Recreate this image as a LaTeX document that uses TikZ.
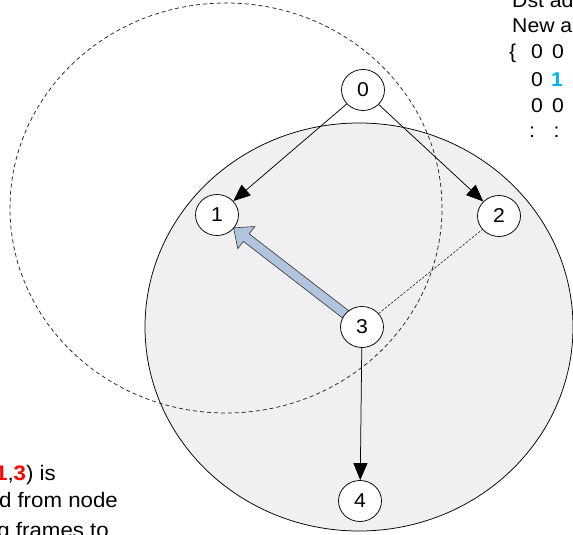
\documentclass[tikz,border=0pt]{standalone}
\usepackage{fontspec}
\setmainfont{Liberation Sans}
\usetikzlibrary{shapes.geometric,arrows.meta,calc}
\definecolor{zone}{RGB}{240,240,240}
\definecolor{fatblue}{RGB}{176,196,222}
\definecolor{hiblue}{RGB}{0,176,240}
\definecolor{hired}{RGB}{255,0,0}
\newcommand{\hstretch}[1]{\scalebox{1.06}[1]{#1}}
\pgfdeclarelayer{bglayer}
\pgfdeclarelayer{midlayer}
\pgfsetlayers{bglayer,midlayer,main}
\begin{document}
\begin{tikzpicture}[x=1pt,y=-1pt,
  vnode/.style={ellipse, draw, fill=white, line width=0.75pt, minimum width=43pt, minimum height=41pt, inner sep=0pt, font=\fontsize{20}{24}\selectfont},
  link/.style={line width=0.75pt, -{Triangle[length=17pt,width=14pt]}},
  weaklink/.style={line width=0.5pt, dash pattern=on 2.5pt off 1.5pt},
  rangering/.style={line width=0.75pt, dash pattern=on 4pt off 3pt, draw=black!85},
  zonestyle/.style={fill=zone, draw=black, line width=0.75pt},
  fatarrow/.style={fill=fatblue, draw=black!80, line width=0.6pt, line join=miter},
  txt/.style={inner sep=0pt, font=\fontsize{20}{24}\selectfont, anchor=base west},
  notetxt/.style={inner sep=0pt, font=\fontsize{21}{25}\selectfont, anchor=base east},
]
\useasboundingbox (0,0) rectangle (573,535);

% nodes
\node[vnode] (n0) at (363,90) {\hstretch{0}};
\node[vnode] (n1) at (217,215) {\hstretch{1}};
\node[vnode] (n2) at (499,216) {\hstretch{2}};
\node[vnode] (n3) at (362,327) {\hstretch{3}};
\node[vnode] (n4) at (360,501) {\hstretch{4}};

% background areas
\begin{pgfonlayer}{bglayer}
  \path[zonestyle] (359,327) ellipse [x radius=214pt, y radius=204pt];
  \path[rangering] (226,208) ellipse [x radius=216pt, y radius=205pt];
\end{pgfonlayer}

% fat arrow 3 -> 1
\begin{pgfonlayer}{midlayer}
  \coordinate (T) at ($(n1.center)!21pt!(n3.center)$);
  \coordinate (S) at ($(n3.center)!8pt!(n1.center)$);
  \coordinate (B) at ($(T)!16pt!(S)$);
  \path[fatarrow] (T) -- ($(B)!14pt!90:(T)$) -- ($(B)!4.75pt!90:(T)$)
     -- ($(S)!4.75pt!90:(T)$) -- ($(S)!4.75pt!-90:(T)$)
     -- ($(B)!4.75pt!-90:(T)$) -- ($(B)!14pt!-90:(T)$) -- cycle;
\end{pgfonlayer}

% links
\draw[link] (n0) -- (n1);
\draw[link] (n0) -- (n2);
\draw[link] (n3) -- (n4);
\draw[weaklink] (n3) -- (n2);

% top right text
\node[txt] (r0) at (512,7.5) {\hstretch{Dst ad}};
\node[txt] (r1) at (512,33) {\hstretch{New a}};
\node[txt] (b1) at (509,59) {\hstretch{\{}};
\node[txt] (c11) at (531,59) {\hstretch{0}};
\node[txt] (c12) at (552,59) {\hstretch{0}};
\node[txt] (c21) at (531,86) {\hstretch{0}};
\node[txt] (c22) at (551,86) {\hstretch{\textbf{\color{hiblue}1}}};
\node[txt] (c31) at (531,112) {\hstretch{0}};
\node[txt] (c32) at (552,112) {\hstretch{0}};
\node[txt] (c41) at (529,137) {\hstretch{:}};
\node[txt] (c42) at (553.5,137) {\hstretch{:}};

% bottom left text
\node[notetxt] (l1) at (56,480) {\hstretch{(\textbf{\color{hired}1},\textbf{\color{hired}3}) is}};
\node[notetxt] (l2) at (118,507) {\hstretch{d from node}};
\node[notetxt] (l3) at (109,537) {\hstretch{g frames to}};
\end{tikzpicture}
\end{document}
